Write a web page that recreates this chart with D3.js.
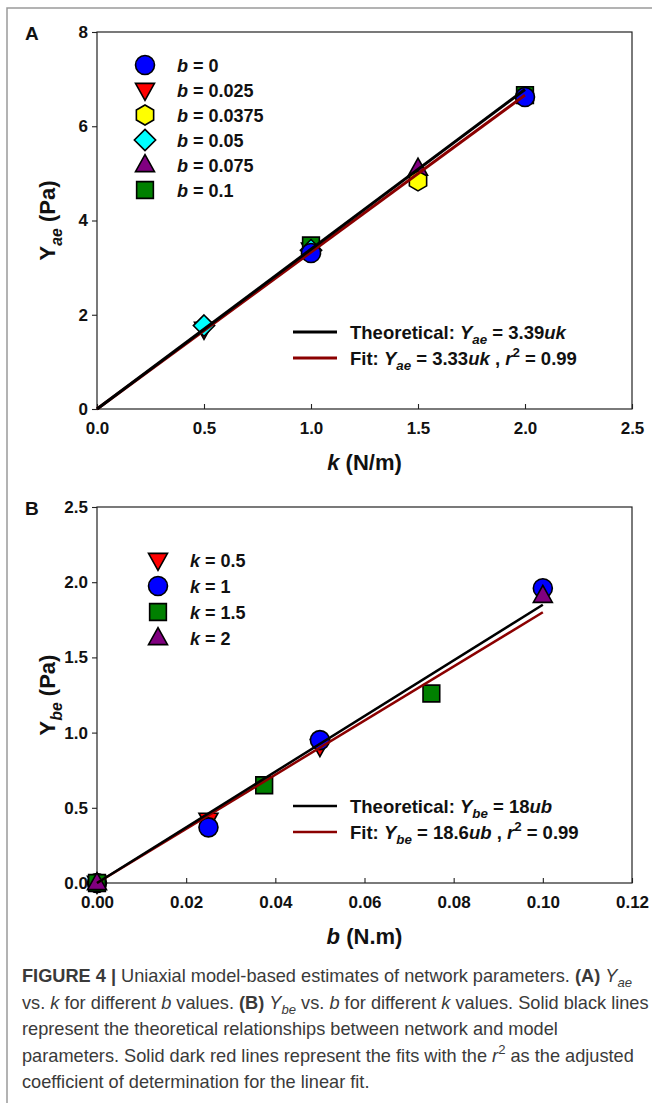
<!DOCTYPE html>
<html>
<head>
<meta charset="utf-8">
<script src="https://cdn.jsdelivr.net/npm/d3@7"></script>
<style>
  body { margin: 0; background: white; }
  svg { display: block; font-family: Arial, "Liberation Sans", sans-serif; }
  .axis text { font-size: 17px; font-weight: bold; fill: #111; font-family: Arial, "Liberation Sans", sans-serif; }
  .axis line { stroke: #222; stroke-width: 1.1; }
  .axis path { display: none; }
  .legend text { font-weight: bold; fill: #111; }
  .caption text { font-size: 18.2px; fill: #3a3a3a; }
</style>
</head>
<body>
<div id="container"></div>
<script>
// panel A: Yae vs k for different b
const kTicks = [0, 0.5, 1, 1.5, 2, 2.5]
const yaeTicks = [0, 2, 4, 6, 8]
const bLegend = ['0', '0.025', '0.0375', '0.05', '0.075', '0.1']
const kPoints = [[1, 2], [0.5, 1], [1.5], [0.5, 1], [1.5], [1, 2]]
const yaePoints = [[3.31, 6.62], [1.70, 3.38], [4.84], [1.77, 3.37], [5.10], [3.47, 6.66]]
const lineK = [0, 2]
const yaeTheory = [0, 6.78]
const yaeFit = [0, 6.66]

// panel B: Ybe vs b for different k
const bTicks = [0, 0.02, 0.04, 0.06, 0.08, 0.10, 0.12]
const ybeTicks = [0, 0.5, 1, 1.5, 2, 2.5]
const kLegend = ['0.5', '1', '1.5', '2']
const bPoints = [[0, 0.025, 0.05], [0, 0.025, 0.05, 0.1], [0, 0.0375, 0.075], [0, 0.1]]
const ybePoints = [[0, 0.42, 0.91], [0, 0.37, 0.95, 1.96], [0, 0.65, 1.26], [0, 1.91]]
const lineB = [0, 0.1]
const ybeTheory = [0, 1.85]
const ybeFit = [0, 1.80]

const w = 652
const h = 1103

// marker shapes, size = r^2
const shapes = {
  circle: { draw(c, s) { const r = Math.sqrt(s); c.moveTo(r, 0); c.arc(0, 0, r, 0, 2 * Math.PI) } },
  square: { draw(c, s) { const r = Math.sqrt(s) * 0.88; c.rect(-r, -r, 2 * r, 2 * r) } },
  triUp: { draw(c, s) { const r = Math.sqrt(s); c.moveTo(0, -r * 1.1); c.lineTo(r, r * 0.7); c.lineTo(-r, r * 0.7); c.closePath() } },
  triDown: { draw(c, s) { const r = Math.sqrt(s); c.moveTo(0, r * 1.1); c.lineTo(r, -r * 0.7); c.lineTo(-r, -r * 0.7); c.closePath() } },
  diamond: { draw(c, s) { const r = Math.sqrt(s) * 1.12; c.moveTo(0, -r); c.lineTo(r, 0); c.lineTo(0, r); c.lineTo(-r, 0); c.closePath() } },
  hexagon: { draw(c, s) {
    const r = Math.sqrt(s) * 1.05
    for (let i = 0; i < 6; i++) {
      const a = -Math.PI / 2 + i * Math.PI / 3
      i === 0 ? c.moveTo(r * Math.cos(a), r * Math.sin(a)) : c.lineTo(r * Math.cos(a), r * Math.sin(a))
    }
    c.closePath()
  } }
}

const shapesA = ['circle', 'triDown', 'hexagon', 'diamond', 'triUp', 'square']
const colorsA = ['#0000ff', '#ff0000', '#ffff00', '#00ffff', '#800080', '#008000']
const orderA = [1, 5, 4, 2, 3, 0]
const shapesB = ['triDown', 'circle', 'square', 'triUp']
const colorsB = ['#ff0000', '#0000ff', '#008000', '#800080']
const orderB = [0, 1, 2, 3]

const markerSize = 9.5 * 9.5

const svg = d3.select('#container')
  .append('svg')
    .attr('width', w)
    .attr('height', h)

// outer figure frame
svg.append('path')
  .attr('d', `M7,${h} V8 H${w}`)
  .attr('fill', 'none')
  .attr('stroke', '#9a9a9a')
  .attr('stroke-width', 1.5)

// write text made of styled pieces: [text, style]
const writeRich = (sel, parts, base) => {
  let shift = 0
  parts.forEach(([t, st]) => {
    const ts = sel.append('tspan').text(t)
    let target = 0
    if (st && st.includes('i')) ts.attr('font-style', 'italic')
    if (st && st.includes('b')) ts.attr('font-weight', 'bold')
    if (st && st.includes('_')) { target = base * 0.3; ts.attr('font-size', base * 0.72) }
    if (st && st.includes('^')) { target = -base * 0.4; ts.attr('font-size', base * 0.72) }
    ts.attr('dy', target - shift)
    shift = target
  })
}

const drawPanel = p => {
  const x = d3.scaleLinear().domain(p.xDomain).range([p.left, p.right])
  const y = d3.scaleLinear().domain(p.yDomain).range([p.bottom, p.top])

  const axisX = d3.axisBottom(x)
    .tickValues(p.xTicks)
    .tickSize(-5)
    .tickSizeOuter(0)
    .tickPadding(13)
    .tickFormat(d3.format(p.xFormat))
  const axisY = d3.axisLeft(y)
    .tickValues(p.yTicks)
    .tickSize(5)
    .tickSizeOuter(0)
    .tickPadding(4)
    .tickFormat(d3.format(p.yFormat))

  svg.append('g')
    .attr('class', 'axis')
    .attr('transform', `translate(0, ${p.bottom})`)
    .call(axisX)
  svg.append('g')
    .attr('class', 'axis')
    .attr('transform', `translate(${p.left}, 0)`)
    .call(axisY)

  svg.append('rect')
    .attr('x', p.left)
    .attr('y', p.top)
    .attr('width', p.right - p.left)
    .attr('height', p.bottom - p.top)
    .attr('fill', 'none')
    .attr('stroke', '#222')
    .attr('stroke-width', 1.2)

  // points
  p.order.forEach(i => {
    svg.append('g')
      .selectAll('path')
      .data(p.xs[i].map((v, j) => [v, p.ys[i][j]]))
      .enter()
    .append('path')
      .attr('transform', d => `translate(${x(d[0])}, ${y(d[1])})`)
      .attr('d', d3.symbol().type(shapes[p.shapes[i]]).size(markerSize))
      .attr('fill', p.colors[i])
      .attr('stroke', '#000')
      .attr('stroke-width', 1.6)
  })

  // theoretical and fit lines
  const line = d3.line().x(d => x(d[0])).y(d => y(d[1]))
  svg.append('path')
    .datum(p.lineX.map((v, j) => [v, p.fit[j]]))
    .attr('d', line)
    .attr('fill', 'none')
    .attr('stroke', '#8b0000')
    .attr('stroke-width', p.lineWidth)
  svg.append('path')
    .datum(p.lineX.map((v, j) => [v, p.theory[j]]))
    .attr('d', line)
    .attr('fill', 'none')
    .attr('stroke', '#000')
    .attr('stroke-width', p.lineWidth)

  // marker legend
  const leg = svg.append('g').attr('class', 'legend')
  p.legend.forEach((lab, i) => {
    const ly = p.legTop + i * p.legStep
    leg.append('path')
      .attr('transform', `translate(${p.legX}, ${ly})`)
      .attr('d', d3.symbol().type(shapes[p.shapes[i]]).size(markerSize))
      .attr('fill', p.colors[i])
      .attr('stroke', '#000')
      .attr('stroke-width', 1.6)
    const t = leg.append('text')
      .attr('x', p.legX + 32)
      .attr('y', ly + 6.5)
      .attr('font-size', 18)
    writeRich(t, [[p.legVar, 'i'], [' = ' + lab]], 18)
  })

  // line legend
  const lineLeg = [['#000', p.theoryText], ['#8b0000', p.fitText]]
  lineLeg.forEach(([col, parts], i) => {
    const ly = p.lineLegY + i * 26
    leg.append('line')
      .attr('x1', 293)
      .attr('x2', 337)
      .attr('y1', ly)
      .attr('y2', ly)
      .attr('stroke', col)
      .attr('stroke-width', p.lineWidth)
    const t = leg.append('text')
      .attr('x', 350)
      .attr('y', ly + 6.5)
      .attr('font-size', 18.5)
    writeRich(t, parts, 18.5)
  })

  // axis titles
  const xt = svg.append('text')
    .attr('x', (p.left + p.right) / 2)
    .attr('y', p.bottom + 61)
    .attr('text-anchor', 'middle')
    .attr('font-size', 22)
    .attr('font-weight', 'bold')
    .attr('fill', '#111')
  writeRich(xt, p.xTitle, 22)

  const yt = svg.append('text')
    .attr('transform', `translate(55, ${(p.top + p.bottom) / 2}) rotate(-90)`)
    .attr('text-anchor', 'middle')
    .attr('font-size', 22)
    .attr('font-weight', 'bold')
    .attr('fill', '#111')
  writeRich(yt, p.yTitle, 22)

  svg.append('text')
    .attr('x', 25)
    .attr('y', p.top + 8)
    .attr('font-size', 19)
    .attr('font-weight', 'bold')
    .attr('fill', '#111')
    .text(p.label)
}

drawPanel({
  label: 'A',
  left: 97, right: 632, top: 32, bottom: 409,
  xDomain: [0, 2.5], yDomain: [0, 8],
  xTicks: kTicks, yTicks: yaeTicks, xFormat: '.1f', yFormat: 'd',
  xs: kPoints, ys: yaePoints, shapes: shapesA, colors: colorsA, order: orderA,
  lineX: lineK, theory: yaeTheory, fit: yaeFit, lineWidth: 3,
  legend: bLegend, legVar: 'b', legX: 145, legTop: 65, legStep: 25,
  lineLegY: 332,
  theoryText: [['Theoretical: '], ['Y', 'i'], ['ae', 'i_'], [' = 3.39'], ['uk', 'i']],
  fitText: [['Fit: '], ['Y', 'i'], ['ae', 'i_'], [' = 3.33'], ['uk', 'i'], [' , '], ['r', 'i'], ['2', '^'], [' = 0.99']],
  xTitle: [['k', 'i'], [' (N/m)']],
  yTitle: [['Y'], ['ae', 'i_'], [' (Pa)']]
})

drawPanel({
  label: 'B',
  left: 97, right: 632, top: 507, bottom: 883,
  xDomain: [0, 0.12], yDomain: [0, 2.5],
  xTicks: bTicks, yTicks: ybeTicks, xFormat: '.2f', yFormat: '.1f',
  xs: bPoints, ys: ybePoints, shapes: shapesB, colors: colorsB, order: orderB,
  lineX: lineB, theory: ybeTheory, fit: ybeFit, lineWidth: 2.5,
  legend: kLegend, legVar: 'k', legX: 158, legTop: 560, legStep: 26,
  lineLegY: 806,
  theoryText: [['Theoretical: '], ['Y', 'i'], ['be', 'i_'], [' = 18'], ['ub', 'i']],
  fitText: [['Fit: '], ['Y', 'i'], ['be', 'i_'], [' = 18.6'], ['ub', 'i'], [' , '], ['r', 'i'], ['2', '^'], [' = 0.99']],
  xTitle: [['b', 'i'], [' (N.m)']],
  yTitle: [['Y'], ['be', 'i_'], [' (Pa)']]
})

// caption
const captionLines = [
  [['FIGURE 4 | ', 'b'], ['Uniaxial model-based estimates of network parameters. '], ['(A) ', 'b'], ['Y', 'i'], ['ae', 'i_']],
  [['vs. '], ['k', 'i'], [' for different '], ['b', 'i'], [' values. '], ['(B) ', 'b'], ['Y', 'i'], ['be', 'i_'], [' vs. '], ['b', 'i'], [' for different '], ['k', 'i'], [' values. Solid black lines']],
  [['represent the theoretical relationships between network and model']],
  [['parameters. Solid dark red lines represent the fits with the '], ['r', 'i'], ['2', '^'], [' as the adjusted']],
  [['coefficient of determination for the linear fit.']]
]
const cap = svg.append('g').attr('class', 'caption')
captionLines.forEach((parts, i) => {
  const t = cap.append('text')
    .attr('x', 22)
    .attr('y', 982 + i * 26.5)
  writeRich(t, parts, 18.2)
})
</script>
</body>
</html>
